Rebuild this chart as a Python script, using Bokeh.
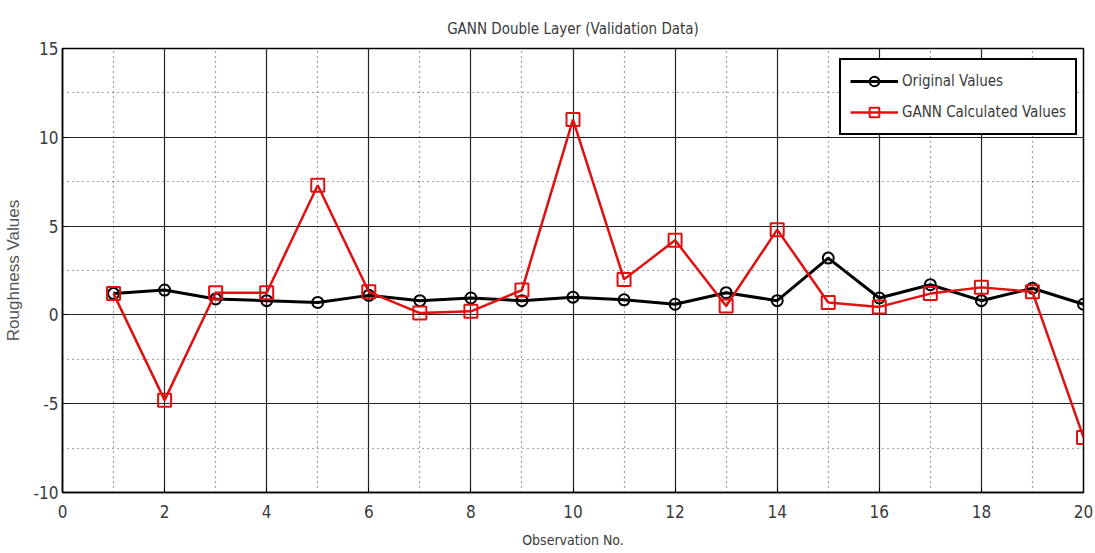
from bokeh.plotting import figure
from bokeh.models import Range1d, FixedTicker, Legend, LegendItem
from bokeh.embed import file_html
from bokeh.resources import INLINE

# Observation numbers and roughness values
observation = list(range(1, 21))
original_values = [1.2, 1.4, 0.9, 0.8, 0.7, 1.1, 0.8, 0.95, 0.8, 1.0,
                   0.85, 0.6, 1.25, 0.8, 3.2, 0.95, 1.7, 0.8, 1.5, 0.6]
gann_values = [1.2, -4.8, 1.25, 1.25, 7.3, 1.3, 0.1, 0.2, 1.4, 11.0,
               2.0, 4.2, 0.5, 4.8, 0.7, 0.45, 1.2, 1.55, 1.3, -6.9]

x_major = [0, 2, 4, 6, 8, 10, 12, 14, 16, 18, 20]
x_minor = [1, 3, 5, 7, 9, 11, 13, 15, 17, 19]
y_major = [-10, -5, 0, 5, 10, 15]
y_minor = [-7.5, -2.5, 2.5, 7.5, 12.5]
y_labels = ["-10", "-5", "0", "5", "10", "15"]

NARROW = "'DejaVu Sans Condensed', 'Liberation Sans Narrow', sans-serif"
TEXT = "#3a3a3a"

p = figure(width=1095, height=553, output_backend="svg", toolbar_location=None,
           x_range=Range1d(0, 20), y_range=Range1d(-10, 15),
           min_border_left=62, min_border_right=12, min_border_top=48, min_border_bottom=61,
           title="GANN Double Layer (Validation Data)")

p.title.align = "center"
p.title.text_font = NARROW
p.title.text_font_size = "15px"
p.title.text_font_style = "normal"
p.title.text_color = TEXT
p.title.standoff = 22

p.outline_line_color = "black"
p.outline_line_width = 1.5
p.background_fill_color = "white"
p.border_fill_color = "white"

p.xaxis.ticker = FixedTicker(ticks=x_major, minor_ticks=x_minor)
p.yaxis.ticker = FixedTicker(ticks=y_major, minor_ticks=y_minor)
p.yaxis.major_label_overrides = {t: s for t, s in zip(y_major, y_labels)}
for ax in (p.xaxis[0], p.yaxis[0]):
    ax.axis_line_color = "black"
    ax.axis_line_width = 1.5
    ax.major_tick_in = 5
    ax.major_tick_out = 0
    ax.minor_tick_in = 0
    ax.minor_tick_out = 0
    ax.major_tick_line_color = "black"
    ax.major_label_text_font = NARROW
    ax.major_label_text_font_size = "17px"
    ax.major_label_text_color = TEXT
p.xaxis.major_label_standoff = 12
p.yaxis.major_label_standoff = 4

p.xaxis.axis_label = "Observation No."
p.xaxis.axis_label_text_font = NARROW
p.xaxis.axis_label_text_font_size = "14px"
p.xaxis.axis_label_text_font_style = "normal"
p.xaxis.axis_label_text_color = TEXT
p.xaxis.axis_label_standoff = 11

p.yaxis.axis_label = "Roughness Values"
p.yaxis.axis_label_text_font = "Liberation Sans"
p.yaxis.axis_label_text_font_size = "17px"
p.yaxis.axis_label_text_font_style = "normal"
p.yaxis.axis_label_text_color = "#555555"
p.yaxis.axis_label_standoff = 8

for g in (p.xgrid[0], p.ygrid[0]):
    g.grid_line_color = "#222222"
    g.grid_line_width = 1.2
    g.minor_grid_line_color = "#444444"
    g.minor_grid_line_width = 1.2
    g.minor_grid_line_dash = "1 4"

black_line = p.line(observation, original_values, line_color="black", line_width=3)
black_pts = p.scatter(observation, original_values, marker="circle", size=11,
                      line_color="black", line_width=2, fill_color=None)
red_line = p.line(observation, gann_values, line_color="#e01010", line_width=2.5)
red_pts = p.scatter(observation, gann_values, marker="square", size=13,
                    line_color="#e01010", line_width=2, fill_color=None)

legend = Legend(items=[
    LegendItem(label="Original Values", renderers=[black_line, black_pts]),
    LegendItem(label="GANN Calculated Values", renderers=[red_line, red_pts]),
], location=(777, 357))
legend.label_text_font = NARROW
legend.label_text_font_size = "15px"
legend.label_text_color = TEXT
legend.glyph_width = 48
legend.glyph_height = 24
legend.label_standoff = 4
legend.spacing = 7
legend.padding = 9
legend.margin = 0
legend.border_line_color = "black"
legend.border_line_alpha = 1.0
legend.border_line_width = 2
legend.background_fill_alpha = 1.0
p.add_layout(legend, "center")

open("out.html", "w").write(file_html(p, INLINE))
